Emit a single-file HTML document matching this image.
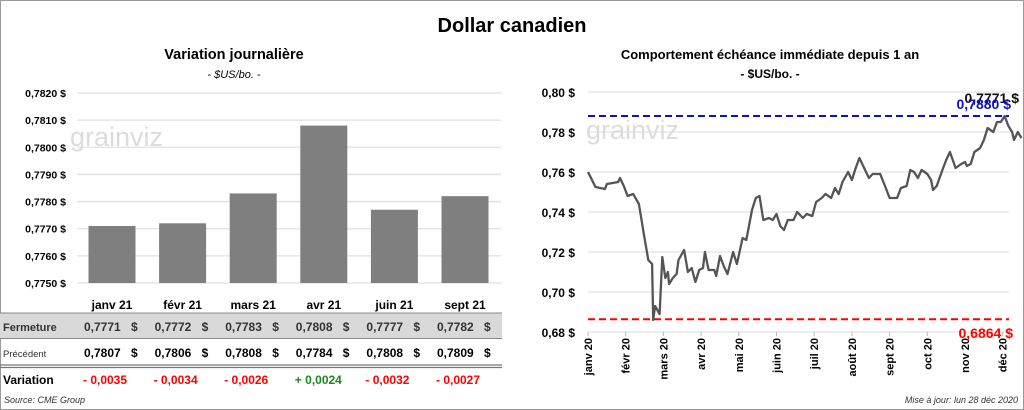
<!DOCTYPE html>
<html><head><meta charset="utf-8">
<style>
body{margin:0;background:#fff;}
#root{position:relative;width:1024px;height:410px;overflow:hidden;font-family:"Liberation Sans",sans-serif;}
svg text{font-family:"Liberation Sans",sans-serif;}
</style></head>
<body>
<div id="root">
<svg id="svg" width="1024" height="410">
<rect x="0.5" y="0.5" width="1023" height="409" fill="#fff" stroke="#999"/>
<text x="512" y="32" text-anchor="middle" font-size="20" font-weight="bold">Dollar canadien</text>
<text x="234" y="59" text-anchor="middle" font-size="14.5" font-weight="bold">Variation  journalière</text>
<text x="234" y="78" text-anchor="middle" font-size="11" font-style="italic">- $US/bo. -</text>
<text x="770" y="59" text-anchor="middle" font-size="13" font-weight="bold">Comportement échéance immédiate depuis 1 an</text>
<text x="770" y="78" text-anchor="middle" font-size="12" font-weight="bold">- $US/bo. -</text>
<g id="left"></g>
<g id="right"></g>
<g id="table"></g>
<text x="4" y="403" font-size="9" font-style="italic" fill="#333">Source: CME Group</text>
<text x="1018" y="403" text-anchor="end" font-size="9" font-style="italic" fill="#333">Mise à jour: lun 28 déc 2020</text>
</svg>
</div>
<script>
const barCats=["janv 21","févr 21","mars 21","avr 21","juin 21","sept 21"];
const closeVals=[0.7771,0.7772,0.7783,0.7808,0.7777,0.7782];
const prevVals=[0.7807,0.7806,0.7808,0.7784,0.7808,0.7809];
const varVals=[-0.0035,-0.0034,-0.0026,0.0024,-0.0032,-0.0027];
const barTicks=[0.7750,0.7760,0.7770,0.7780,0.7790,0.7800,0.7810,0.7820];
const lineMonths=["janv 20","févr 20","mars 20","avr 20","mai 20","juin 20","juil 20","août 20","sept 20","oct 20","nov 20","déc 20"];
const lineT=[0,0.2,0.45,0.5,0.8,0.85,0.95,1.05,1.2,1.35,1.5,1.6,1.7,1.73,1.78,1.9,1.97,2.05,2.12,2.15,2.25,2.35,2.4,2.55,2.65,2.75,2.85,2.95,3.05,3.1,3.2,3.35,3.4,3.5,3.6,3.7,3.85,3.95,4.1,4.2,4.35,4.45,4.55,4.65,4.8,4.9,5.0,5.1,5.2,5.3,5.45,5.55,5.7,5.8,5.95,6.05,6.2,6.3,6.45,6.55,6.65,6.75,6.9,7.0,7.1,7.2,7.3,7.45,7.55,7.75,7.9,8.0,8.2,8.3,8.45,8.55,8.65,8.75,8.85,9.0,9.1,9.15,9.25,9.4,9.5,9.6,9.75,9.9,10.0,10.05,10.15,10.25,10.4,10.5,10.6,10.75,10.85,10.95,11.05,11.15,11.25,11.3,11.4,11.5];
const lineV=[0.760,0.7525,0.7515,0.754,0.755,0.757,0.753,0.748,0.749,0.744,0.727,0.716,0.714,0.686,0.693,0.689,0.7175,0.707,0.710,0.704,0.707,0.709,0.716,0.721,0.710,0.712,0.705,0.711,0.712,0.720,0.711,0.711,0.708,0.718,0.713,0.709,0.720,0.714,0.727,0.726,0.741,0.747,0.748,0.736,0.737,0.736,0.739,0.733,0.731,0.736,0.736,0.740,0.737,0.739,0.738,0.745,0.747,0.749,0.747,0.752,0.749,0.755,0.760,0.756,0.762,0.767,0.763,0.757,0.759,0.759,0.752,0.747,0.747,0.752,0.753,0.761,0.760,0.757,0.761,0.759,0.756,0.751,0.753,0.761,0.766,0.770,0.762,0.764,0.765,0.763,0.764,0.770,0.772,0.776,0.782,0.780,0.785,0.785,0.788,0.783,0.780,0.776,0.780,0.777];
const lineTicks=[0.68,0.70,0.72,0.74,0.76,0.78,0.80];
const highVal=0.7880, lowVal=0.6864, lastVal=0.7771;

const NS="http://www.w3.org/2000/svg";
function mk(tag,attrs,parent,txt){const e=document.createElementNS(NS,tag);for(const k in attrs)e.setAttribute(k,attrs[k]);if(txt!==undefined)e.textContent=txt;parent.appendChild(e);return e;}
const fmt=(v,d)=>v.toFixed(d).replace('.',',');

// left bar chart
const L=document.getElementById('left');
const ly=v=>283-(v-0.7750)/(0.0070)*190;
const lx=i=>112+i*70.6;
barTicks.forEach(t=>{
 const g=mk('line',{x1:77,x2:501,y1:ly(t),y2:ly(t),stroke:'#e0e0e0','stroke-width':1.3},L);
 
 
 const tx=mk('text',{x:66,y:ly(t)+4,'text-anchor':'end','font-size':10.5,'font-weight':'bold'},L,fmt(t,4)+' $');
 
 
});
const wm=mk('text',{x:70,y:146,'font-size':27,fill:'#dcdcdc'},L,'grainviz');


closeVals.forEach((v,i)=>{
 const r=mk('rect',{x:lx(i)-23.5,y:ly(v),width:47,height:283-ly(v),fill:'#7f7f7f'},L);
 
 
});

// table
const T=document.getElementById('table');
mk('rect',{x:0,y:313,width:502,height:25,fill:'#d9d9d9'},T);
mk('line',{x1:0,x2:502,y1:313,y2:313,stroke:'#888'},T);
mk('line',{x1:0,x2:502,y1:338.5,y2:338.5,stroke:'#888'},T);
mk('line',{x1:0,x2:502,y1:365,y2:365,stroke:'#777','stroke-width':1.2},T);
mk('line',{x1:0,x2:502,y1:367.5,y2:367.5,stroke:'#777','stroke-width':1.2},T);
let h=mk('text',{x:3,y:331,'font-size':11,'font-weight':'bold',fill:'#333'},T,'Fermeture');

h=mk('text',{x:3,y:357,'font-size':9.5,fill:'#333'},T,'Précédent');

h=mk('text',{x:3,y:384,'font-size':12,'font-weight':'bold'},T,'Variation');

barCats.forEach((c,i)=>{
 const cx=lx(i);
 let e=mk('text',{x:cx,y:309,'text-anchor':'middle','font-size':12,'font-weight':'bold'},T,c);
 
 
 e=mk('text',{x:cx-28,y:331,'font-size':12,'font-weight':'bold',fill:'#333'},T,fmt(closeVals[i],4));
 
 
 e=mk('text',{x:cx+19,y:331,'font-size':12,'font-weight':'bold',fill:'#333'},T,'$');
 
 
 e=mk('text',{x:cx-28,y:357,'font-size':12,'font-weight':'bold'},T,fmt(prevVals[i],4));
 
 
 e=mk('text',{x:cx+19,y:357,'font-size':12,'font-weight':'bold'},T,'$');
 
 
 const d=varVals[i];
 e=mk('text',{x:cx-29,y:384,'font-size':12,'font-weight':'bold',fill:d<0?'#ff0000':'#1a8a1a'},T,(d<0?'- ':'+ ')+fmt(Math.abs(d),4));
 
 
});

// right line chart
const R=document.getElementById('right');
const ry=v=>332-(v-0.68)/0.12*240;
const rx=m=>588+m*37.7;
lineTicks.forEach(t=>{
 const g=mk('line',{x1:588,x2:1009,y1:ry(t),y2:ry(t),stroke:'#e3e3e3','stroke-width':1.3},R);
 
 
 const tx=mk('text',{x:575,y:ry(t)+5,'text-anchor':'end','font-size':12,'font-weight':'bold'},R,fmt(t,2)+' $');
 
 
});
lineMonths.forEach((m,i)=>{
 const x=rx(i);
 const tk=mk('line',{x1:x,x2:x,y1:332,y2:336,stroke:'#bbb'},R);
 
 
 const tx=mk('text',{x:0,y:0,'font-size':11,'font-weight':'bold',transform:`translate(${x+4},338) rotate(-90)`,'text-anchor':'end'},R,m);
 
 
});
const wm2=mk('text',{x:586,y:139,'font-size':27,fill:'#dcdcdc'},R,'grainviz');


let hl=mk('line',{x1:588,x2:1009,y1:ry(highVal),y2:ry(highVal),stroke:'#1010c0','stroke-width':2,'stroke-dasharray':'7,4'},R);

hl=mk('line',{x1:588,x2:1009,y1:ry(lowVal),y2:ry(lowVal),stroke:'#ff0000','stroke-width':2,'stroke-dasharray':'7,4'},R);

const pts=lineT.map((t,i)=>rx(t).toFixed(1)+','+ry(lineV[i]).toFixed(1)).join(' ');
const pl=mk('polyline',{points:pts,fill:'none',stroke:'#555','stroke-width':2.3,'stroke-linejoin':'round'},R);


let a=mk('text',{x:1019,y:103,'text-anchor':'end','font-size':14,'font-weight':'bold',fill:'#111'},R,fmt(lastVal,4)+' $');

a=mk('text',{x:1011,y:109,'text-anchor':'end','font-size':14,'font-weight':'bold',fill:'#1010c0'},R,fmt(highVal,4)+' $');

a=mk('text',{x:1013,y:338,'text-anchor':'end','font-size':14,'font-weight':'bold',fill:'#ff0000'},R,fmt(lowVal,4)+' $');

</script>
</body></html>
